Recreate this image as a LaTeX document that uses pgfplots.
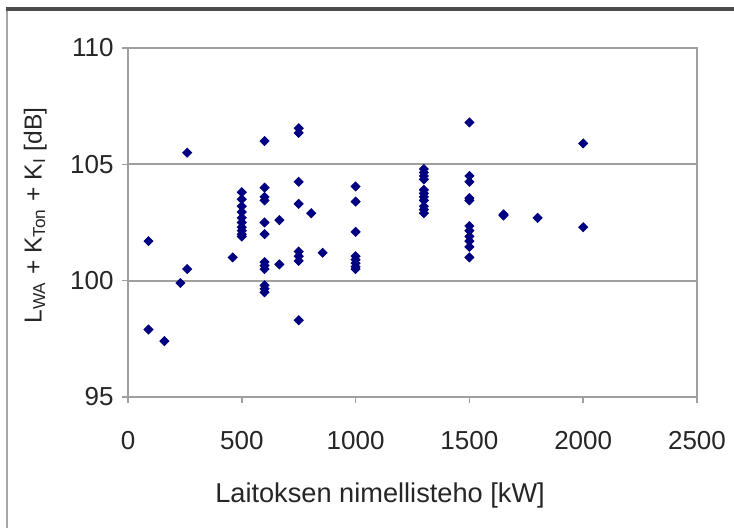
\documentclass[border=0pt]{standalone}
\usepackage{pgfplots}
\pgfplotsset{compat=1.18}
\usepackage{fontspec}
\setmainfont{Liberation Sans}
\definecolor{navy}{HTML}{000080}
\begin{document}
\fontsize{12}{14}\selectfont
\begin{tikzpicture}
\useasboundingbox (-64pt,-65pt) rectangle (303pt,198.5pt);
\fill[white] (-64pt,-65pt) rectangle (303pt,198.5pt);
\draw[gray!70, line width=1.2pt] (-60.5pt,-66pt) -- (-60.5pt,194pt);
\draw[black!70, line width=1.6pt] (-61pt,194pt) -- (304pt,194pt);
\begin{axis}[
  at={(0pt,0pt)}, anchor=south west,
  scale only axis, width=284.5pt, height=174.5pt,
  xmin=0, xmax=2500, ymin=95, ymax=110,
  xtick={0,500,1000,1500,2000,2500}, ytick={95,100,105,110},
  xtick pos=bottom, ytick pos=left,
  ymajorgrids, grid style={gray!75, line width=1pt},
  axis line style={gray!75, line width=1.1pt},
  tick align=outside, major tick length=3pt,
  tick style={gray!75, line width=0.8pt},
  /pgf/number format/assume math mode=true,
  /pgf/number format/set thousands separator={},
  ticklabel style={font=\fontsize{13}{15}\selectfont, text=black!85},
  xticklabel style={yshift=-10pt},
  xlabel={Laitoksen nimellisteho [kW]},
  ylabel={L\textsubscript{WA} + K\textsubscript{Ton} + K\textsubscript{I} [dB]},
  xlabel style={font=\fontsize{13.6}{16}\selectfont, text=black!85, at={(axis description cs:0.443,-0.281)}, anchor=center},
  ylabel style={font=\fontsize{12.3}{14}\selectfont, text=black!85, at={(axis description cs:-0.163,0.52)}, anchor=center},
]
\addplot[only marks, mark=square*, mark options={rotate=45}, mark size=1.6pt, color=navy] table {
x y
90 101.7
90 97.9
160 97.4
230 99.9
260 105.5
260 100.5
460 101.0
500 103.8
500 103.5
500 103.2
500 102.95
500 102.7
500 102.5
500 102.3
500 102.15
500 102.0
500 101.9
600 106.0
600 104.0
600 103.6
600 103.45
600 102.5
600 102.0
600 100.8
600 100.65
600 100.5
600 99.8
600 99.65
600 99.5
665 102.6
665 100.7
750 106.55
750 106.35
750 104.25
750 103.3
750 101.25
750 101.05
750 100.85
750 98.3
805 102.9
855 101.2
1000 104.05
1000 103.4
1000 102.1
1000 101.05
1000 100.9
1000 100.75
1000 100.6
1000 100.5
1300 104.8
1300 104.65
1300 104.5
1300 104.35
1300 103.9
1300 103.75
1300 103.6
1300 103.45
1300 103.2
1300 103.05
1300 102.9
1500 106.8
1500 104.5
1500 104.25
1500 103.55
1500 103.45
1500 102.35
1500 102.15
1500 101.9
1500 101.7
1500 101.45
1500 101.0
1650 102.85
1650 102.8
1800 102.7
2000 105.9
2000 102.3
};
\end{axis}
\end{tikzpicture}
\end{document}
